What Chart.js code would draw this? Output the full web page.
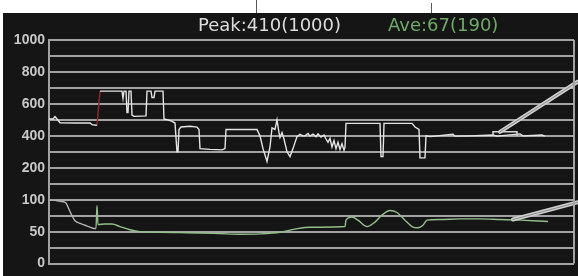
<!DOCTYPE html>
<html>
<head>
<meta charset="utf-8">
<script src="https://cdn.jsdelivr.net/npm/chart.js@4.4.1/dist/chart.umd.min.js"></script>
<style>
  body { margin: 0; background: #fff; }
  #wrap { position: relative; width: 578px; height: 276px; overflow: hidden; }
  #panel { position: absolute; left: 3px; top: 13px; width: 575px; height: 263px; background: #151515; }
  #grafico { position: absolute; left: 0; top: 0; }
  .lbl { position: absolute; top: 13px; font-family: "DejaVu Sans", sans-serif; font-size: 18px; line-height: 24px; white-space: nowrap; }
  #peak { left: 198px; color: #dcdcdc; }
  #ave { left: 388px; color: #6faa68; }
  .pin { position: absolute; width: 1px; background: #555; }
</style>
</head>
<body>
<div id="wrap">
  <div id="panel"></div>
  <div class="pin" style="left:256px; top:0; height:13px;"></div>
  <div class="pin" style="left:431px; top:3px; height:10px;"></div>
  <canvas id="grafico" width="578" height="276"></canvas>
  <span class="lbl" id="peak"></span>
  <span class="lbl" id="ave"></span>
</div>
<script>
// textos de cabecera
const peakTexto = 'Peak:410(1000)';
const aveTexto = 'Ave:67(190)';

// serie superior (0-1000)
const tiempoAlto = [0,4,6,8,11,26,41,43,47,48,51,73,74,75,77,78,79,80,82,83,85,97,98,102,103,105,106,114,115,119,123,126,128,129,130,132,141,148,150,151,161,173,176,177,208,211,214,218,221,223,226,228,230,231,233,235,238,241,244,248,251,254,256,259,261,264,267,269,272,275,277,279,281,283,285,287,289,291,293,295,296,297,331,332,334,335,363,366,370,371,376,377,381,404,406,421,444,448,471,474,493,496];
const valorAlto = [505,505,520,505,482,480,480,470,466,470,680,680,635,680,680,545,545,680,680,530,522,525,680,680,640,640,680,680,505,500,490,480,300,300,440,455,460,455,440,320,315,312,320,440,440,400,320,240,330,450,440,500,420,390,420,380,300,270,320,395,410,400,400,415,398,410,395,412,392,405,380,360,385,330,370,320,360,315,350,310,330,478,478,270,270,478,478,455,440,262,262,400,395,410,398,400,405,398,412,400,405,398];

// serie inferior (0-100)
const tiempoBajo = [0,6,13,17,20,23,26,31,36,41,45,47,48,49,56,63,71,81,91,111,131,151,171,191,211,231,246,261,271,296,297,303,309,318,326,333,341,348,356,363,369,374,378,391,411,431,451,471,499];
const valorBajo = [100,99,97,95,85,75,67,63,60,57,55,55,91,61,62,62,58,53,50,49,48.5,48,47,46,46.5,49,54,57,57,58,68,73,68,58,65,76,83,80,68,58,56,60,68,69,70,70,69,68,66];

const ticksAlto = [200, 400, 600, 800, 1000];
const ticksBajo = [0, 50, 100];

document.getElementById('peak').textContent = peakTexto;
document.getElementById('ave').textContent = aveTexto;

const colorGrid = '#a2a2a2';
const tramoRojo = tiempoAlto.indexOf(48);
const finGris = tiempoBajo.indexOf(47);

// lineas de llamada a la derecha
const llamadas = {
    id: 'llamadas',
    afterDatasetsDraw(chart) {
        const c = chart.ctx;
        const x = chart.scales.x;
        const yA = chart.scales.yAlto;
        const yB = chart.scales.yBajo;
        const W = chart.width;
        const dibujar = (x0, y0, x1, y1) => {
            c.save();
            c.lineCap = 'round';
            c.strokeStyle = '#cfcfcf';
            c.lineWidth = 4;
            c.beginPath(); c.moveTo(x0, y0); c.lineTo(x1, y1); c.stroke();
            c.strokeStyle = '#8a8a8a';
            c.lineWidth = 1;
            c.beginPath(); c.moveTo(x0, y0); c.lineTo(x1, y1); c.stroke();
            c.restore();
        };
        // corchete sobre la serie alta
        c.save();
        c.strokeStyle = '#d8d8d8';
        c.lineWidth = 1.5;
        c.beginPath();
        c.moveTo(x.getPixelForValue(444), yA.getPixelForValue(400));
        c.lineTo(x.getPixelForValue(444), yA.getPixelForValue(425));
        c.lineTo(x.getPixelForValue(468), yA.getPixelForValue(425));
        c.lineTo(x.getPixelForValue(468), yA.getPixelForValue(400));
        c.stroke();
        c.restore();
        dibujar(x.getPixelForValue(451), yA.getPixelForValue(425), W, yA.getPixelForValue(740));
        dibujar(x.getPixelForValue(464), yB.getPixelForValue(69), W, yB.getPixelForValue(96));
        // borde derecho
        c.save();
        c.strokeStyle = colorGrid;
        c.lineWidth = 2;
        c.beginPath();
        c.moveTo(chart.chartArea.right, chart.chartArea.top);
        c.lineTo(chart.chartArea.right, chart.chartArea.bottom);
        c.stroke();
        c.restore();
    }
};

const ancho = (scale) => { scale.width = 49; };

new Chart(document.getElementById('grafico'), {
    type: 'line',
    data: {
        datasets: [
            {
                label: 'Peak',
                data: tiempoAlto.map((t, i) => ({ x: t, y: valorAlto[i] })),
                yAxisID: 'yAlto',
                borderColor: '#e4e4e4',
                borderWidth: 1.4,
                pointRadius: 0,
                tension: 0,
                segment: {
                    borderColor: ctx => ctx.p0DataIndex === tramoRojo ? '#8e2a2a' : undefined
                }
            },
            {
                label: 'Ave',
                data: tiempoBajo.map((t, i) => ({ x: t, y: valorBajo[i] })),
                yAxisID: 'yBajo',
                borderColor: '#93bf8a',
                borderWidth: 1.4,
                pointRadius: 0,
                cubicInterpolationMode: 'monotone',
                segment: {
                    borderColor: ctx => ctx.p0DataIndex < finGris ? '#b4b4b4' : undefined
                }
            }
        ]
    },
    options: {
        responsive: false,
        animation: false,
        layout: { padding: { top: 40, right: 4, bottom: 7, left: 0 } },
        plugins: { legend: { display: false }, tooltip: { enabled: false } },
        scales: {
            x: { type: 'linear', min: 0, max: 525, display: false },
            yBajo: {
                type: 'linear',
                position: 'left',
                stack: 'v',
                stackWeight: 4,
                min: 0,
                max: 100,
                afterFit: ancho,
                ticks: {
                    stepSize: 25,
                    autoSkip: false,
                    padding: 4,
                    color: '#c8c8c8',
                    font: { family: 'Liberation Sans', size: 14, weight: 'bold' },
                    callback: v => ticksBajo.includes(v) ? String(v) : ''
                },
                grid: { color: colorGrid, lineWidth: 2, drawTicks: false },
                border: { color: colorGrid, width: 2 }
            },
            yAlto: {
                type: 'linear',
                position: 'left',
                stack: 'v',
                stackWeight: 10,
                min: 0,
                max: 1000,
                afterFit: ancho,
                ticks: {
                    stepSize: 100,
                    autoSkip: false,
                    padding: 4,
                    color: '#c8c8c8',
                    font: { family: 'Liberation Sans', size: 14, weight: 'bold' },
                    callback: v => ticksAlto.includes(v) ? String(v) : ''
                },
                grid: { color: colorGrid, lineWidth: 2, drawTicks: false },
                border: { color: colorGrid, width: 2 }
            }
        }
    },
    plugins: [llamadas]
});
</script>
</body>
</html>
